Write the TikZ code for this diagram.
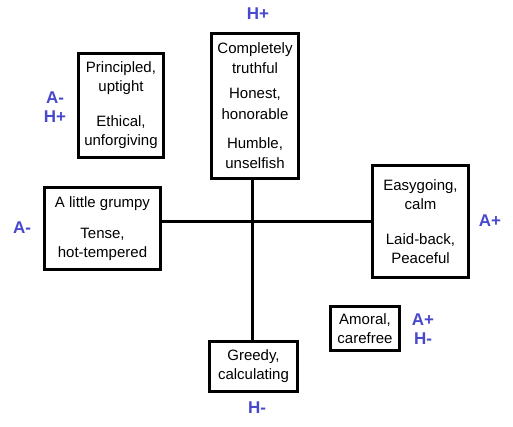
\documentclass[tikz,border=0pt]{standalone}
\usepackage{fontspec}
\setmainfont{Liberation Sans}
\usepackage{tikz}
\definecolor{axistext}{RGB}{72, 72, 205}

\begin{document}
\begin{tikzpicture}[x=0.75pt, y=-0.75pt,
    trait/.style={draw, line width=2.25pt, fill=white, inner sep=0pt, align=center,
      font=\fontsize{11.25}{14.25}\selectfont},
    pole/.style={axistext, font=\fontsize{12.75}{14}\selectfont\bfseries, align=center}]
        \useasboundingbox (0,0) rectangle (513,427);
        \coordinate (cross) at (252,222);
        \node[trait, minimum width=65.25pt, minimum height=108.75pt] (top) at (255,106)
          {Completely\\[0.8pt]truthful\\[4.5pt]Honest,\\[0.8pt]honorable\\[8pt]Humble,\\[0.8pt]unselfish};
        \node[trait, minimum width=63.75pt, minimum height=78pt] (principled) at (121,105.5)
          {Principled,\\uptight\\[12pt]Ethical,\\unforgiving};
        \node[trait, minimum width=87pt, minimum height=61.5pt] (grumpy) at (102.5,228.5)
          {A little grumpy\\[9pt]Tense,\\hot-tempered};
        \node[trait, minimum width=72pt, minimum height=84pt] (easy) at (420.5,221.5)
          {Easygoing,\\calm\\[12pt]Laid-back,\\Peaceful};
        \node[trait, minimum width=51.75pt, minimum height=33pt] (amoral) at (365,328.5)
          {Amoral,\\carefree};
        \node[trait, minimum width=66pt, minimum height=37.5pt] (greedy) at (253.5,366.5)
          {Greedy,\\calculating};
        % axes
        \draw[line width=2.25pt] (cross |- top.south) -- (cross |- greedy.north);
        \draw[line width=2.25pt] (grumpy.east |- cross) -- (easy.west |- cross);
        % pole labels
        \node[pole] (hplus) at (258,14) {H+};
        \node[pole] (ahtop) at (55,107) {A-\\H+};
        \node[pole] (aminus) at (22,228) {A-};
        \node[pole] (aplus) at (490,221) {A+};
        \node[pole] (ahbot) at (423,329) {A+\\H-};
        \node[pole] (hminus) at (257,408) {H-};
\end{tikzpicture}
\end{document}
